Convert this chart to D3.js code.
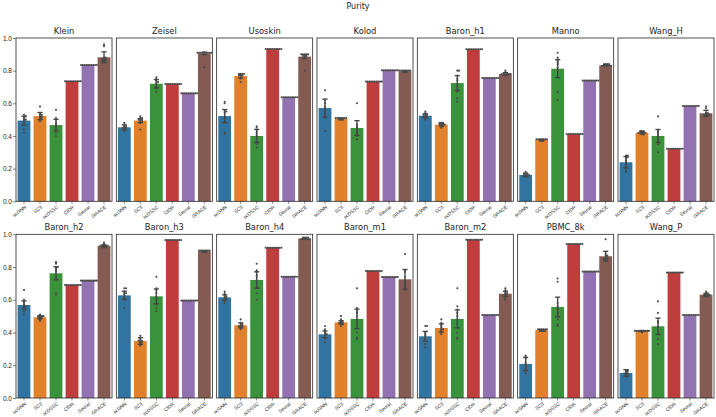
<!DOCTYPE html>
<html>
<head>
<meta charset="utf-8">
<script src="https://cdn.jsdelivr.net/npm/d3@7"></script>
<style>
  body { margin: 0; background: #fff; }
  svg { display: block; font-family: "DejaVu Sans", sans-serif; }
</style>
</head>
<body>
<div id="chart"></div>
<script>
// datasets, in panel order (2 rows x 7)
const datasets = ['Klein', 'Zeisel', 'Usoskin', 'Kolod', 'Baron_h1', 'Manno', 'Wang_H',
  'Baron_h2', 'Baron_h3', 'Baron_h4', 'Baron_m1', 'Baron_m2', 'PBMC_8k', 'Wang_P']
const methods = ['scGNN', 'SC3', 'scDSSC', 'CIDR', 'Seurat', 'GRACE']
const colors = ['#3274a1', '#e1812c', '#3a923a', '#c03d3e', '#9372b2', '#845b53']
const yTicks = [0, 0.2, 0.4, 0.6, 0.8, 1.0]

// mean purity per dataset, methods in order
const means = [
  [0.494, 0.522, 0.467, 0.735, 0.835, 0.882],
  [0.453, 0.494, 0.720, 0.718, 0.661, 0.906],
  [0.522, 0.767, 0.400, 0.933, 0.637, 0.886],
  [0.571, 0.506, 0.449, 0.733, 0.802, 0.796],
  [0.524, 0.469, 0.724, 0.931, 0.755, 0.780],
  [0.161, 0.376, 0.812, 0.412, 0.739, 0.833],
  [0.239, 0.420, 0.400, 0.322, 0.584, 0.539],
  [0.568, 0.493, 0.762, 0.690, 0.717, 0.929],
  [0.627, 0.348, 0.621, 0.965, 0.595, 0.896],
  [0.615, 0.444, 0.721, 0.918, 0.741, 0.974],
  [0.389, 0.462, 0.483, 0.776, 0.739, 0.725],
  [0.377, 0.428, 0.483, 0.967, 0.507, 0.637],
  [0.208, 0.415, 0.556, 0.941, 0.772, 0.866],
  [0.153, 0.409, 0.438, 0.766, 0.507, 0.631]
]
// half width of the confidence interval
const errs = [
  [0.027, 0.022, 0.035, 0, 0, 0.033],
  [0.015, 0.012, 0.025, 0, 0, 0.008],
  [0.040, 0.012, 0.040, 0, 0, 0.012],
  [0.055, 0.003, 0.045, 0, 0, 0.003],
  [0.012, 0.008, 0.045, 0, 0, 0.008],
  [0.010, 0.003, 0.055, 0, 0, 0.004],
  [0.035, 0.007, 0.040, 0, 0, 0.018],
  [0.025, 0.010, 0.040, 0, 0, 0.007],
  [0.025, 0.020, 0.045, 0, 0, 0.002],
  [0.015, 0.015, 0.050, 0, 0, 0.001],
  [0.020, 0.010, 0.060, 0, 0, 0.060],
  [0.030, 0.025, 0.055, 0, 0, 0.015],
  [0.040, 0.003, 0.060, 0, 0, 0.030],
  [0.020, 0.003, 0.050, 0, 0, 0.008]
]

// individual runs (10 per dataset)
const scGNNRuns = [
  [0.42, 0.44, 0.47, 0.49, 0.50, 0.50, 0.51, 0.52, 0.52, 0.53],
  [0.43, 0.44, 0.44, 0.45, 0.45, 0.45, 0.46, 0.46, 0.47, 0.48],
  [0.41, 0.42, 0.48, 0.50, 0.52, 0.54, 0.55, 0.55, 0.60, 0.61],
  [0.43, 0.51, 0.53, 0.55, 0.56, 0.57, 0.58, 0.60, 0.62, 0.68],
  [0.50, 0.51, 0.52, 0.52, 0.52, 0.53, 0.53, 0.53, 0.54, 0.55],
  [0.15, 0.15, 0.16, 0.16, 0.16, 0.16, 0.17, 0.17, 0.17, 0.18],
  [0.18, 0.19, 0.22, 0.24, 0.25, 0.26, 0.27, 0.27, 0.28, 0.28],
  [0.51, 0.53, 0.55, 0.56, 0.56, 0.57, 0.58, 0.59, 0.60, 0.66],
  [0.55, 0.60, 0.61, 0.62, 0.63, 0.64, 0.64, 0.65, 0.67, 0.67],
  [0.58, 0.59, 0.60, 0.61, 0.61, 0.62, 0.62, 0.63, 0.64, 0.65],
  [0.34, 0.36, 0.37, 0.38, 0.39, 0.39, 0.40, 0.41, 0.42, 0.44],
  [0.31, 0.33, 0.35, 0.36, 0.37, 0.38, 0.39, 0.40, 0.44, 0.44],
  [0.15, 0.16, 0.18, 0.19, 0.20, 0.21, 0.22, 0.24, 0.25, 0.26],
  [0.13, 0.14, 0.14, 0.15, 0.15, 0.15, 0.16, 0.16, 0.17, 0.17]
]
const SC3Runs = [
  [0.49, 0.50, 0.51, 0.51, 0.52, 0.52, 0.53, 0.53, 0.54, 0.58],
  [0.44, 0.48, 0.49, 0.49, 0.50, 0.50, 0.50, 0.51, 0.51, 0.52],
  [0.73, 0.75, 0.76, 0.77, 0.77, 0.77, 0.78, 0.78, 0.78, 0.78],
  [0.50, 0.50, 0.50, 0.51, 0.51, 0.51, 0.51, 0.51, 0.51, 0.51],
  [0.45, 0.46, 0.46, 0.47, 0.47, 0.47, 0.47, 0.48, 0.48, 0.48],
  [0.37, 0.37, 0.37, 0.38, 0.38, 0.38, 0.38, 0.38, 0.38, 0.38],
  [0.41, 0.41, 0.42, 0.42, 0.42, 0.42, 0.42, 0.43, 0.43, 0.43],
  [0.47, 0.48, 0.49, 0.49, 0.49, 0.50, 0.50, 0.50, 0.50, 0.51],
  [0.32, 0.33, 0.34, 0.34, 0.35, 0.35, 0.35, 0.36, 0.37, 0.38],
  [0.42, 0.43, 0.43, 0.44, 0.44, 0.44, 0.45, 0.45, 0.46, 0.48],
  [0.44, 0.45, 0.45, 0.46, 0.46, 0.46, 0.47, 0.47, 0.48, 0.50],
  [0.39, 0.40, 0.41, 0.42, 0.42, 0.43, 0.44, 0.45, 0.46, 0.48],
  [0.41, 0.41, 0.41, 0.41, 0.42, 0.42, 0.42, 0.42, 0.42, 0.42],
  [0.40, 0.41, 0.41, 0.41, 0.41, 0.41, 0.41, 0.41, 0.41, 0.41]
]
const scDSSCRuns = [
  [0.40, 0.42, 0.44, 0.45, 0.46, 0.47, 0.48, 0.50, 0.51, 0.56],
  [0.67, 0.69, 0.70, 0.71, 0.72, 0.73, 0.73, 0.74, 0.75, 0.76],
  [0.33, 0.35, 0.37, 0.39, 0.40, 0.41, 0.42, 0.43, 0.45, 0.46],
  [0.38, 0.40, 0.41, 0.42, 0.43, 0.44, 0.45, 0.46, 0.47, 0.60],
  [0.61, 0.63, 0.67, 0.70, 0.72, 0.74, 0.75, 0.77, 0.80, 0.80],
  [0.62, 0.67, 0.80, 0.82, 0.84, 0.85, 0.86, 0.87, 0.88, 0.91],
  [0.30, 0.35, 0.37, 0.38, 0.39, 0.40, 0.41, 0.42, 0.43, 0.52],
  [0.63, 0.64, 0.74, 0.77, 0.78, 0.79, 0.80, 0.80, 0.82, 0.83],
  [0.53, 0.55, 0.57, 0.60, 0.61, 0.62, 0.64, 0.66, 0.67, 0.74],
  [0.60, 0.64, 0.68, 0.70, 0.72, 0.74, 0.75, 0.77, 0.78, 0.82],
  [0.36, 0.37, 0.40, 0.45, 0.48, 0.50, 0.52, 0.53, 0.55, 0.67],
  [0.36, 0.37, 0.40, 0.45, 0.48, 0.50, 0.52, 0.54, 0.56, 0.67],
  [0.44, 0.45, 0.48, 0.50, 0.52, 0.55, 0.56, 0.58, 0.71, 0.73],
  [0.33, 0.36, 0.39, 0.41, 0.43, 0.44, 0.46, 0.47, 0.52, 0.59]
]
const GRACERuns = [
  [0.86, 0.86, 0.86, 0.87, 0.87, 0.87, 0.88, 0.88, 0.95, 0.96],
  [0.82, 0.91, 0.91, 0.91, 0.91, 0.91, 0.91, 0.91, 0.91, 0.91],
  [0.80, 0.88, 0.89, 0.89, 0.89, 0.90, 0.90, 0.90, 0.90, 0.90],
  [0.79, 0.79, 0.79, 0.80, 0.80, 0.80, 0.80, 0.80, 0.80, 0.80],
  [0.77, 0.77, 0.78, 0.78, 0.78, 0.78, 0.78, 0.78, 0.79, 0.80],
  [0.83, 0.83, 0.83, 0.83, 0.83, 0.83, 0.84, 0.84, 0.84, 0.84],
  [0.52, 0.52, 0.53, 0.53, 0.53, 0.53, 0.54, 0.54, 0.57, 0.58],
  [0.92, 0.92, 0.92, 0.93, 0.93, 0.93, 0.93, 0.93, 0.94, 0.95],
  [0.89, 0.89, 0.89, 0.90, 0.90, 0.90, 0.90, 0.90, 0.90, 0.90],
  [0.97, 0.97, 0.97, 0.97, 0.97, 0.97, 0.98, 0.98, 0.98, 0.98],
  [0.66, 0.68, 0.69, 0.70, 0.71, 0.72, 0.74, 0.77, 0.78, 0.88],
  [0.60, 0.61, 0.62, 0.63, 0.64, 0.64, 0.65, 0.65, 0.66, 0.67],
  [0.84, 0.85, 0.85, 0.85, 0.86, 0.86, 0.87, 0.87, 0.88, 0.97],
  [0.62, 0.62, 0.62, 0.63, 0.63, 0.63, 0.63, 0.64, 0.64, 0.65]
]
// CIDR and Seurat are deterministic: every run gives the mean
const runsPerMethod = [scGNNRuns, SC3Runs, scDSSCRuns, null, null, GRACERuns]
const nRuns = 10

const W = 716, H = 417
const svg = d3.select('#chart').append('svg')
  .attr('width', W).attr('height', H)

svg.append('text')
  .text('Purity')
  .attr('x', 358).attr('y', 9)
  .attr('text-anchor', 'middle')
  .attr('font-size', 8)
  .attr('fill', '#222')

var colScale = d3.scaleBand().domain(d3.range(7)).range([16, 714]).paddingInner(0.043)
var rowRanges = [[201.3, 38], [398, 234.3]]

// simple beeswarm: pixel offsets for each y so dots don't overlap
function swarm(ys, minDist) {
  const placed = []
  const out = new Array(ys.length)
  const order = ys.map((y, i) => i).sort((a, b) => ys[a] - ys[b])
  const cands = [0]
  for (let k = 1; k < 60; k++) { cands.push(k * 0.35, -k * 0.35) }
  order.forEach(i => {
    const y = ys[i]
    for (const x of cands) {
      if (placed.every(p => Math.hypot(p[0] - x, p[1] - y) >= minDist)) {
        out[i] = x
        placed.push([x, y])
        break
      }
    }
  })
  return out
}

datasets.forEach(function(name, di) {
  const row = Math.floor(di / 7), col = di % 7
  const pw = colScale.bandwidth()
  const yScale = d3.scaleLinear().domain([0, 1]).range(rowRanges[row])
  const xScale = d3.scaleBand().domain(methods).range([0, pw]).paddingInner(0.2).paddingOuter(0.1)
  const top = yScale(1), bottom = yScale(0)

  const g = svg.append('g').attr('transform', 'translate(' + colScale(col) + ',0)')

  // bars
  g.selectAll('rect.bar').data(means[di]).enter().append('rect')
    .attr('class', 'bar')
    .attr('x', (d, i) => xScale(methods[i]))
    .attr('y', d => yScale(d))
    .attr('width', xScale.bandwidth())
    .attr('height', d => bottom - yScale(d))
    .attr('fill', (d, i) => colors[i])

  // error bars
  const cap = 2.6
  errs[di].forEach(function(e, i) {
    if (e <= 0) return
    const cx = xScale(methods[i]) + xScale.bandwidth() / 2
    const y0 = yScale(means[di][i] - e), y1 = yScale(means[di][i] + e)
    const eg = g.append('g').attr('stroke', '#424242').attr('stroke-width', 1.3)
    eg.append('line').attr('x1', cx).attr('x2', cx).attr('y1', y0).attr('y2', y1)
    eg.append('line').attr('x1', cx - cap).attr('x2', cx + cap).attr('y1', y0).attr('y2', y0)
    eg.append('line').attr('x1', cx - cap).attr('x2', cx + cap).attr('y1', y1).attr('y2', y1)
  })

  // swarm points
  methods.forEach(function(m, i) {
    const runs = runsPerMethod[i] ? runsPerMethod[i][di] : d3.range(nRuns).map(() => means[di][i])
    const ys = runs.map(v => yScale(v))
    const offs = swarm(ys, 1.45)
    const cx = xScale(m) + xScale.bandwidth() / 2
    g.selectAll(null).data(runs).enter().append('circle')
      .attr('cx', (d, k) => cx + offs[k])
      .attr('cy', (d, k) => ys[k])
      .attr('r', 1.05)
      .attr('fill', '#4a4a4a')
  })

  // x axis
  const xa = g.append('g').attr('transform', 'translate(0,' + bottom + ')')
    .call(d3.axisBottom(xScale).tickSize(2.5))
  xa.select('.domain').remove()
  xa.selectAll('line').attr('stroke', '#333').attr('stroke-width', 0.6)
  xa.selectAll('text')
    .attr('font-size', 4.8)
    .attr('fill', '#222')
    .attr('text-anchor', 'end')
    .attr('y', 0)
    .attr('dy', 0)
    .attr('transform', 'translate(2.5,6.5) rotate(-38)')

  // y axis on the first column only
  if (col === 0) {
    const ya = g.append('g')
      .call(d3.axisLeft(yScale).tickValues(yTicks).tickFormat(d3.format('.1f')).tickSize(3))
    ya.select('.domain').remove()
    ya.selectAll('line').attr('stroke', '#333').attr('stroke-width', 0.6)
    ya.selectAll('text').attr('font-size', 6.5).attr('fill', '#222').attr('x', -4)
  }

  // frame
  g.append('rect')
    .attr('x', 0).attr('y', top)
    .attr('width', pw).attr('height', bottom - top)
    .attr('fill', 'none')
    .attr('stroke', '#262626')
    .attr('stroke-width', 0.8)

  // panel title
  g.append('text')
    .text(name)
    .attr('x', pw / 2).attr('y', top - 4)
    .attr('text-anchor', 'middle')
    .attr('font-size', 8.3)
    .attr('fill', '#222')
})
</script>
</body>
</html>
